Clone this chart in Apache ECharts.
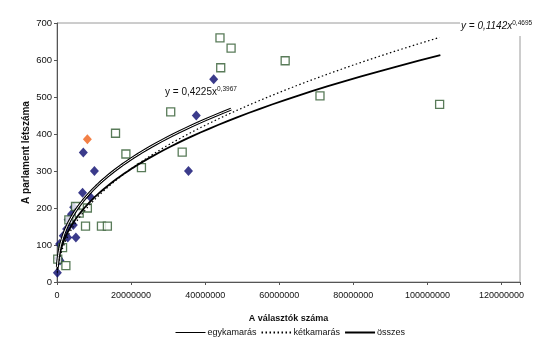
<!DOCTYPE html>
<html lang="hu">
  <head>
    <meta charset="utf-8" />
    <title>Parlament létszáma</title>
    <style>
      * {
        margin: 0;
        padding: 0;
      }
      #chart-container {
        position: relative;
        height: 353px;
        width: 560px;
        overflow: hidden;
        background: #fff;
      }
    </style>
  </head>
  <body>
    <div id="chart-container"></div>
    <script src="https://cdn.jsdelivr.net/npm/echarts@6/dist/echarts.min.js"></script>
    <script>
      // választók száma (millió), parlament létszáma
      var egyX = [0.1, 0.4, 0.8, 0.7, 1.7, 2.6, 2.9, 5.1, 3.0, 4.4, 3.9, 4.5, 3.6, 6.9, 9.0, 7.1, 10.1, 35.5, 37.6, 42.3];
      var egyY = [25, 64, 58, 103, 125, 143, 120, 120, 168, 154, 183, 202, 160, 241, 230, 350, 300, 300, 450, 548];
      var ketX = [0.2, 1.5, 2.4, 3.2, 5.0, 6.0, 8.2, 7.7, 12.0, 13.6, 15.8, 18.6, 22.8, 30.7, 33.8, 44.2, 44.0, 47.0, 61.6, 71.0, 103.3];
      var ketY = [62, 93, 44, 168, 204, 186, 200, 151, 151, 151, 402, 346, 309, 460, 351, 579, 660, 632, 598, 503, 480];
      var kiemeltX = [8.2];
      var kiemeltY = [386];

      // hatványtrendek: y = a * x^b, [a, b, xmin, xmax]
      var trendEgy = [0.4225, 0.3967, 0.1, 47];
      var trendKet = [0.1142, 0.4695, 0.1, 103.3];
      var trendOsszes = [0.245, 0.424, 0.1, 103.5];

      function pairs(xs, ys) {
        return xs.map(function (x, i) {
          return [x * 1e6, ys[i]];
        });
      }

      function trend(t) {
        var pts = [];
        var n = 120;
        for (var i = 0; i <= n; i++) {
          var x = t[2] * Math.pow(t[3] / t[2], i / n) * 1e6;
          pts.push([x, t[0] * Math.pow(x, t[1])]);
        }
        return pts;
      }

      var dom = document.getElementById("chart-container");
      var myChart = echarts.init(dom, null, { renderer: "canvas" });
      var font = "Liberation Sans, Arial, sans-serif";

      var option = {
        animation: false,
        textStyle: { fontFamily: font },
        grid: {
          left: 57,
          right: 40,
          top: 23,
          bottom: 71,
          show: true,
          borderColor: "#9a9a9a",
          borderWidth: 1,
        },
        legend: {
          left: 170,
          top: 323,
          itemWidth: 30,
          itemHeight: 8,
          itemGap: 4,
          itemStyle: { opacity: 0 },
          textStyle: { fontSize: 9, color: "#111", fontFamily: font, padding: [0, 0, 0, -3] },
          data: [
            { name: "egykamarás", lineStyle: { width: 1 } },
            "kétkamarás",
            "összes",
          ],
        },
        xAxis: {
          type: "value",
          min: 0,
          max: 125000000,
          interval: 20000000,
          name: "A választók száma",
          nameLocation: "middle",
          nameGap: 32,
          nameMoveOverlap: false,
          nameTextStyle: { fontSize: 9, fontWeight: "bold", color: "#111" },
          splitLine: { show: false },
          axisLine: { lineStyle: { color: "#555" } },
          axisTick: { length: 3, lineStyle: { color: "#555" } },
          axisLabel: {
            fontSize: 9,
            color: "#111",
            margin: 9,
            formatter: function (v) {
              return v % 20000000 === 0 ? String(v) : "";
            },
          },
        },
        yAxis: {
          type: "value",
          min: 0,
          max: 700,
          interval: 100,
          name: "A parlament létszáma",
          nameLocation: "middle",
          nameGap: 26,
          nameMoveOverlap: false,
          nameTextStyle: { fontSize: 10, fontWeight: "bold", color: "#111" },
          splitLine: { show: false },
          axisLine: { lineStyle: { color: "#555" } },
          axisTick: { length: 3, lineStyle: { color: "#555" } },
          axisLabel: { fontSize: 9.5, color: "#111", margin: 5 },
        },
        series: [
          {
            name: "egy pontok",
            type: "scatter",
            symbol: "diamond",
            symbolSize: [9, 10],
            itemStyle: { color: "#0a0a6e" },
            data: pairs(egyX, egyY),
            z: 3,
          },
          {
            name: "két pontok",
            type: "scatter",
            symbol: "rect",
            symbolSize: 8,
            itemStyle: { color: "#fff", borderColor: "#2f5a30", borderWidth: 1.3 },
            data: pairs(ketX, ketY),
            z: 3,
          },
          {
            name: "kiemelt",
            type: "scatter",
            symbol: "diamond",
            symbolSize: [9, 10],
            itemStyle: { color: "#f06018" },
            data: pairs(kiemeltX, kiemeltY),
            z: 3,
          },
          {
            name: "egykamarás",
            type: "line",
            symbol: "none",
            lineStyle: { color: "#000", width: 3 },
            itemStyle: { color: "#000" },
            data: trend(trendEgy),
            z: 4,
          },
          {
            name: "egybelső",
            type: "line",
            symbol: "none",
            silent: true,
            lineStyle: { color: "#fff", width: 1 },
            data: trend(trendEgy),
            z: 5,
          },
          {
            name: "kétkamarás",
            type: "line",
            symbol: "none",
            lineStyle: { color: "#000", width: 1.2, type: [1.5, 2.5] },
            itemStyle: { color: "#000" },
            data: trend(trendKet),
            z: 4,
          },
          {
            name: "összes",
            type: "line",
            symbol: "none",
            lineStyle: { color: "#000", width: 1.8 },
            itemStyle: { color: "#000" },
            data: trend(trendOsszes),
            z: 4,
          },
        ],
        graphic: [
          {
            type: "rect",
            left: 460,
            top: 0,
            shape: { width: 100, height: 36 },
            style: { fill: "#fff" },
            z: 100,
          },
          {
            type: "text",
            left: 461,
            top: 20,
            z: 101,
            style: {
              text: "{b|y = 0,1142x}{s|0,4695}",
              rich: {
                b: { fontSize: 10, fontStyle: "italic", fontFamily: font, fill: "#111" },
                s: { fontSize: 6.5, fontFamily: font, fill: "#111", verticalAlign: "top", padding: [0, 0, 6, 0] },
              },
            },
          },
          {
            type: "text",
            left: 165,
            top: 86,
            z: 101,
            style: {
              text: "{b|y = 0,4225x}{s|0,3967}",
              rich: {
                b: { fontSize: 10, fontFamily: font, fill: "#111" },
                s: { fontSize: 6.5, fontFamily: font, fill: "#111", padding: [0, 0, 6, 0] },
              },
            },
          },
        ],
      };

      myChart.setOption(option);
      window.addEventListener("resize", myChart.resize);
    </script>
  </body>
</html>
